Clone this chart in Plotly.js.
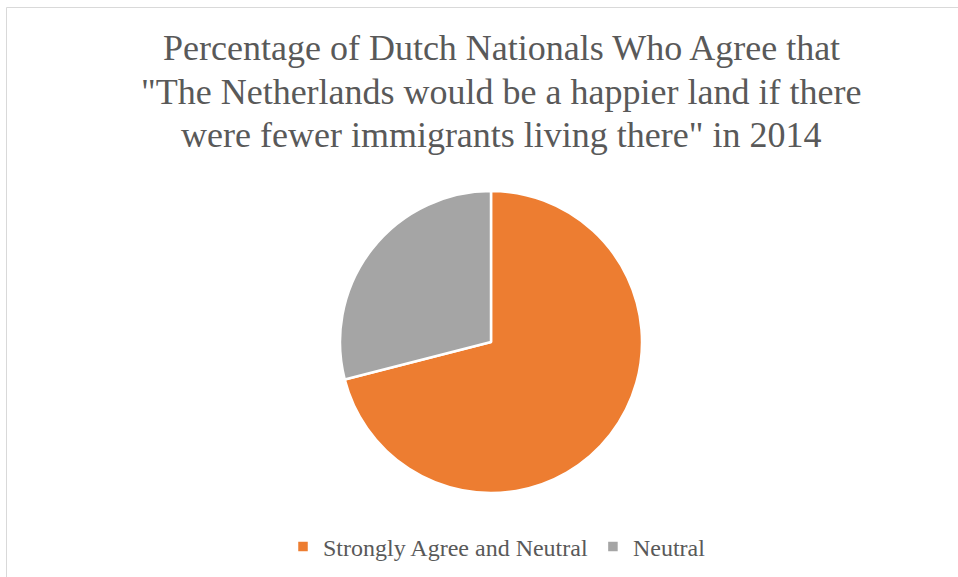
<!DOCTYPE html>
<html>
<head>
<meta charset="utf-8">
<script src="https://cdn.plot.ly/plotly-3.0.1.min.js"></script>
<style>
  html, body { margin: 0; padding: 0; background: #fff; overflow: hidden; }
  #chart { position: absolute; left: 0; top: 0; width: 958px; height: 577px; }
  #fx { position: absolute; left: 940px; top: 560px; width: 10px; height: 10px; font: 2px 'Liberation Serif'; color: rgba(255,255,255,0); }
</style>
</head>
<body>
<div id="chart"></div>
<div id="fx"></div>
<script>
const titleLines = [
  'Percentage of Dutch Nationals Who Agree that',
  '"The Netherlands would be a happier land if there',
  'were fewer immigrants living there" in 2014'
];
const categories = ['Strongly Agree and Neutral', 'Neutral'];
const values = [71, 29];
const colors = ['#ED7D31', '#A5A5A5'];

const W = 958, H = 577;
const cx = 491, cy = 342, r = 151;
const FONT = 'Liberation Serif';

const trace = {
  type: 'pie',
  labels: categories,
  values: values,
  sort: false,
  direction: 'clockwise',
  rotation: 0,
  textinfo: 'none',
  hoverinfo: 'label+percent',
  marker: { colors: colors, line: { color: '#FFFFFF', width: 2.5 } },
  domain: { x: [(cx - r) / W, (cx + r) / W], y: [(H - cy - r) / H, (H - cy + r) / H] }
};

const baselines = [61, 105, 148];
const annotations = titleLines.map((t, i) => ({
  text: t,
  xref: 'paper', yref: 'paper',
  x: 501 / W, xanchor: 'center',
  y: (H - baselines[i] - 9) / H, yanchor: 'bottom',
  showarrow: false,
  font: { family: FONT, size: 36, color: '#595959' }
}));

const layout = {
  width: W, height: H,
  margin: { l: 0, r: 0, t: 0, b: 0 },
  font: { family: FONT, color: '#595959' },
  showlegend: true,
  legend: {
    orientation: 'h',
    x: 497 / W, xanchor: 'center',
    y: (H - 547) / H, yanchor: 'middle',
    font: { family: FONT, size: 24, color: '#595959' },
    itemwidth: 30,
    traceorder: 'normal'
  },
  shapes: [{
    type: 'rect', xref: 'paper', yref: 'paper',
    x0: 6.5 / W, x1: 1.05, y0: -0.05, y1: 1 - 7.5 / H,
    line: { color: '#D9D9D9', width: 1 }, fillcolor: 'rgba(0,0,0,0)'
  }],
  annotations: annotations
};

Plotly.newPlot('chart', [trace], layout, { displayModeBar: false, staticPlot: true }).then(() => {
  const els = document.querySelectorAll('#chart text');
  let s = '';
  els.forEach(e => {
    e.style.fontFamily = "'Liberation Serif', 'Times New Roman', Tinos, serif";
    s += getComputedStyle(e).fontFamily;
  });
  document.getElementById('fx').innerHTML = '<span>' + s.length + '</span>';
});
</script>
</body>
</html>
